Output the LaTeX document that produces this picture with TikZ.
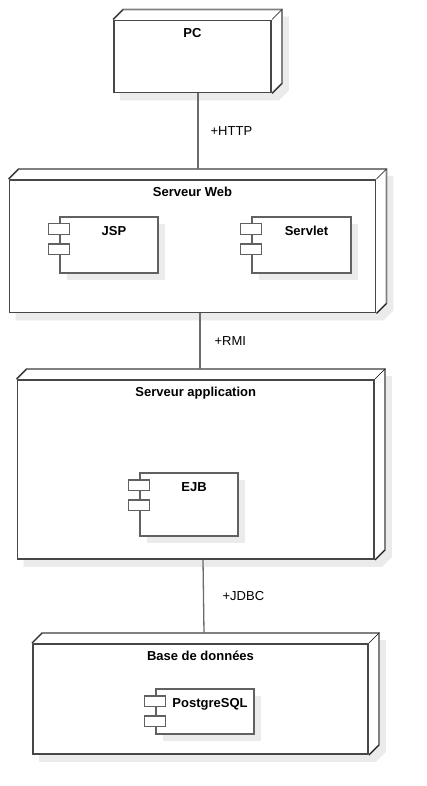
\documentclass[tikz,border=0pt]{standalone}
\usepackage{fontspec}
\setmainfont{Liberation Sans}
\usetikzlibrary{positioning,backgrounds,shadows}

\begin{document}
\begin{tikzpicture}[x=1pt,y=-1pt,
    font=\fontsize{13}{15}\selectfont,
    devnode/.style={draw=black!72,line width=1.9pt,fill=white,inner sep=0pt},
    backline/.style={draw=black!50,line width=1.8pt},
    diag/.style={draw=black,line width=0.5pt},
    comp/.style={draw=black!62,line width=1.5pt,fill=white,inner sep=0pt,
        drop shadow={shadow xshift=7pt,shadow yshift=-7pt,fill=black!8,opacity=1}},
    port/.style={draw=black!62,line width=1.5pt,fill=white},
    title/.style={anchor=base,yshift=-17.5pt,font=\fontsize{13}{15}\selectfont\bfseries},
    ctitle/.style={anchor=base,xshift=5pt,yshift=-19pt,font=\fontsize{13}{15}\selectfont\bfseries},
    link/.style={draw=black!58,line width=1.3pt},
    lbl/.style={inner sep=0pt}]

  \begin{scope}[on background layer]
    \fill[white] (0,0) rectangle (426,786);
  \end{scope}
  \useasboundingbox (0,0) rectangle (426,786);

  % deployment nodes
  \node[devnode,minimum width=157pt,minimum height=72pt,
        label={[title]north:PC}] (pc) at (192.5,56.5) {};
  \node[devnode,minimum width=366pt,minimum height=132.5pt,
        label={[title]north:Serveur Web}] (web) at (192.5,246.25) {};
  \node[devnode,minimum width=356.5pt,minimum height=179pt,
        label={[title]north:Serveur application}] (app) at (195.75,469.5) {};
  \node[devnode,minimum width=335pt,minimum height=110pt,
        label={[title]north:Base de données}] (db) at (200.5,699) {};

  % depth and shadow of the nodes
  \foreach \n in {pc,web,app,db} {
    \begin{scope}[on background layer]
      \fill[black!8] ([shift={(7,7)}]\n.south west) -- ([shift={(7,7)}]\n.north west)
        -- ([shift={(17,-3)}]\n.north west) -- ([shift={(17,-3)}]\n.north east)
        -- ([shift={(17,-3)}]\n.south east) -- ([shift={(7,7)}]\n.south east) -- cycle;
      \fill[white] (\n.north west) -- ++(10,-10)
        -- ([shift={(10,-10)}]\n.north east) -- ([shift={(10,-10)}]\n.south east)
        -- (\n.south east) -- cycle;
    \end{scope}
    \draw[backline] (\n.north west) -- ++(10,-10)
      -- ([shift={(10,-10)}]\n.north east) -- ([shift={(10,-10)}]\n.south east)
      -- (\n.south east);
    \draw[diag] (\n.north west) -- ++(10,-10);
    \draw[diag] (\n.north east) -- ++(10,-10);
    \draw[diag] (\n.south east) -- ++(10,-10);
  }

  % components
  \node[comp,minimum width=98pt,minimum height=56pt,
        label={[ctitle]north:JSP}] (jsp) at (109,245) {};
  \node[comp,minimum width=99pt,minimum height=56pt,
        label={[ctitle]north:Servlet}] (servlet) at (301.5,245) {};
  \node[comp,minimum width=98pt,minimum height=63pt,
        label={[ctitle]north:EJB}] (ejb) at (189,504.5) {};
  \node[comp,minimum width=98pt,minimum height=45pt,
        label={[ctitle]north:PostgreSQL}] (pg) at (205,711.5) {};

  \foreach \c in {jsp,servlet,ejb,pg} {
    \draw[port] ([shift={(-11,7.5)}]\c.north west) rectangle ++(21,10.5);
    \draw[port] ([shift={(-11,27.5)}]\c.north west) rectangle ++(21,10.5);
  }

  % connectors
  \draw[link] ([xshift=5.5pt]pc.south) -- node[lbl,right=12pt]{+HTTP}
        ([xshift=5.5pt,yshift=10pt]web.north);
  \draw[link] ([xshift=7.5pt]web.south) -- node[lbl,right=14pt]{+RMI}
        ([xshift=4.25pt,yshift=10pt]app.north);
  \draw[link] ([xshift=7.25pt]app.south) -- node[lbl,right=18.5pt]{+JDBC}
        ([xshift=3.5pt,yshift=10pt]db.north);

\end{tikzpicture}
\end{document}
